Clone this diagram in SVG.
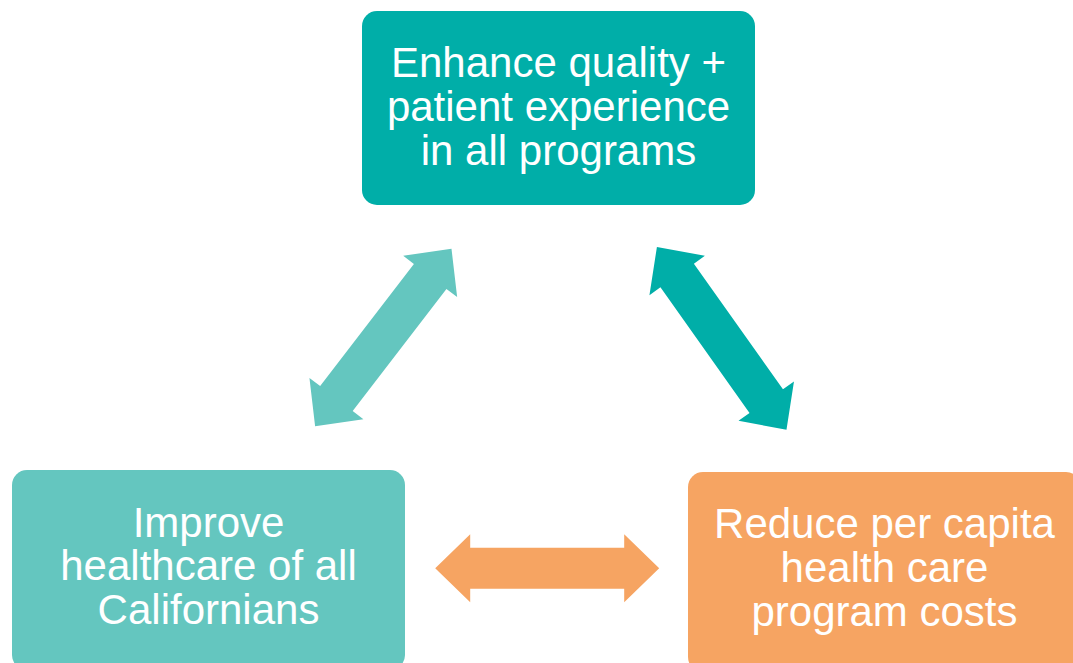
<svg xmlns="http://www.w3.org/2000/svg" width="1073" height="663" viewBox="0 0 1073 663">
  <style>
    .box-text { font-family: "Liberation Sans", Arial, sans-serif; font-size: 42px; fill: #ffffff; text-anchor: middle; }
    .teal-dark { fill: #00AEA8; }
    .teal-light { fill: #64C6BF; }
    .orange { fill: #F6A462; }
  </style>
  <defs>
    <!-- double-headed block arrow, centred on the origin, pointing along x -->
    <path id="dbl-arrow" d="M -112,0 L -77,-34 L -77,-20.5 L 77,-20.5 L 77,-34 L 112,0 L 77,34 L 77,20.5 L -77,20.5 L -77,34 Z"/>
  </defs>
  <rect width="1073" height="663" fill="#ffffff"/>

  <g id="connectors">
    <use href="#dbl-arrow" class="teal-light" transform="translate(383.3,337.5) rotate(-52.5)"/>
    <use href="#dbl-arrow" class="teal-dark" transform="translate(721.7,338.3) rotate(54.66)"/>
    <use href="#dbl-arrow" class="orange" transform="translate(547.2,568.3)"/>
  </g>

  <g id="node-quality">
    <rect x="362" y="11" width="393" height="194" rx="15" class="teal-dark"/>
    <text class="box-text" x="558.5" y="77">Enhance quality +</text>
    <text class="box-text" x="558.5" y="121">patient experience</text>
    <text class="box-text" x="558.5" y="165">in all programs</text>
  </g>

  <g id="node-healthcare">
    <rect x="12" y="470" width="393" height="200" rx="15" class="teal-light"/>
    <text class="box-text" x="208.5" y="537">Improve</text>
    <text class="box-text" x="208.5" y="580">healthcare of all</text>
    <text class="box-text" x="208.5" y="624">Californians</text>
  </g>

  <g id="node-costs">
    <rect x="688" y="472" width="393" height="200" rx="15" class="orange"/>
    <text class="box-text" x="884.5" y="538">Reduce per capita</text>
    <text class="box-text" x="884.5" y="582">health care</text>
    <text class="box-text" x="884.5" y="626">program costs</text>
  </g>
</svg>
